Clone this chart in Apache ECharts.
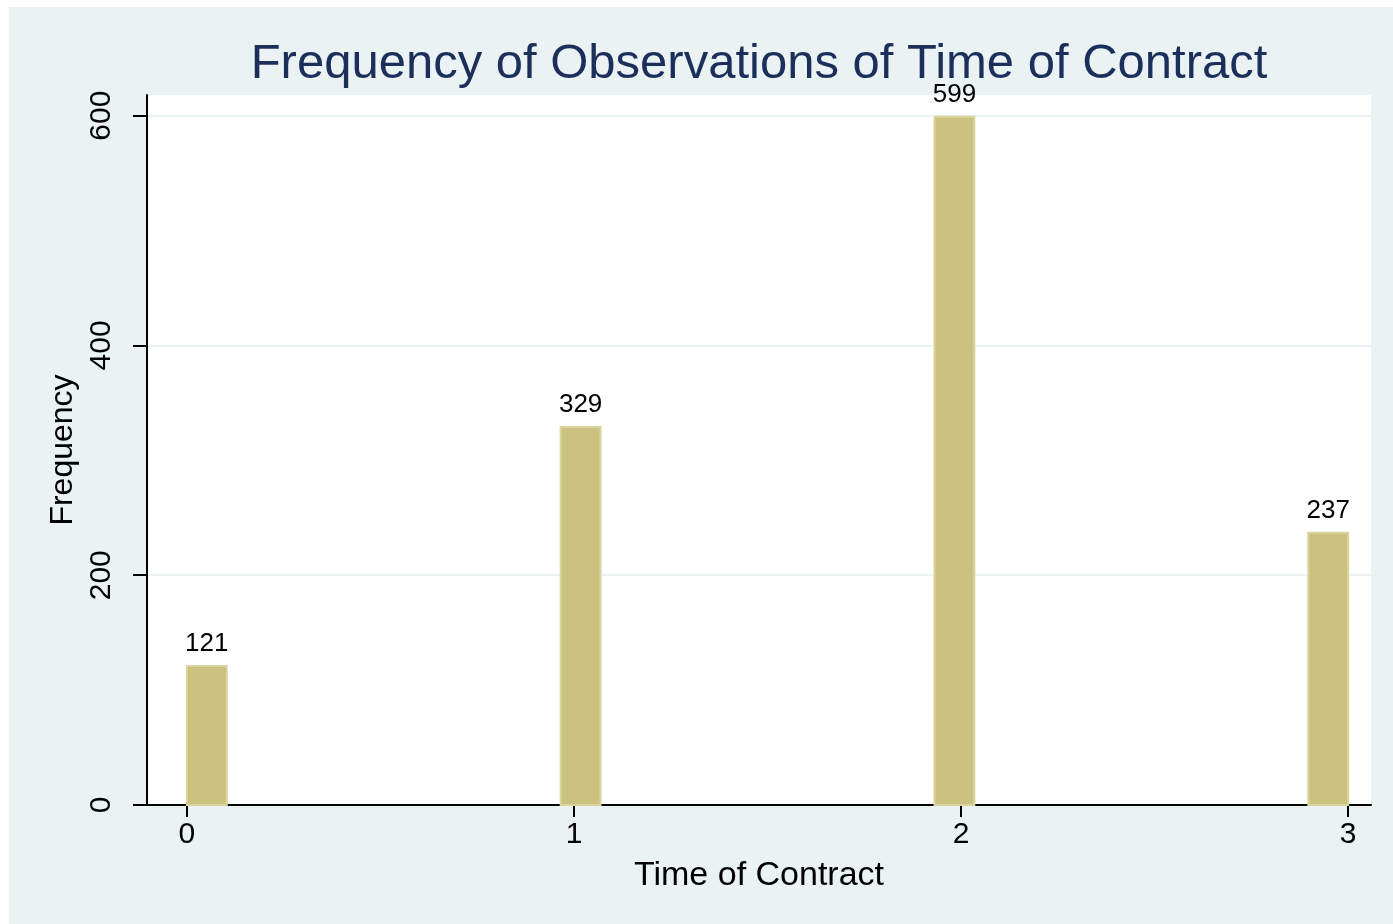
<!DOCTYPE html>
<html>
<head>
<meta charset="utf-8">
<script src="https://cdn.jsdelivr.net/npm/echarts@6/dist/echarts.min.js"></script>
<style>
html,body{margin:0;padding:0;background:#ffffff;width:1393px;height:924px;overflow:hidden;}
#chart{position:absolute;left:9px;top:7px;width:1384px;height:917px;}
</style>
</head>
<body>
<div id="chart"></div>
<script>
const titleText = "Frequency of Observations of Time of Contract";
const xName = "Time of Contract";
const yName = "Frequency";
const categories = [0, 1, 2, 3];
const frequencies = [121, 329, 599, 237];
const xTicks = [0, 1, 2, 3];
const yTicks = [0, 200, 400, 600];
const binWidth = 0.103;

const maxCat = categories[categories.length - 1];
const barData = categories.map((c, i) => {
  const x0 = c * (maxCat - binWidth) / maxCat;
  return [x0, x0 + binWidth, frequencies[i]];
});

const FONT = "Liberation Sans, Arial, Helvetica, sans-serif";
const chart = echarts.init(document.getElementById('chart'));
chart.setOption({
  backgroundColor: '#EAF2F3',
  animation: false,
  title: {
    text: titleText,
    left: 745,
    top: 28,
    textAlign: 'center',
    textStyle: {color: '#1c2e5a', fontSize: 49, fontWeight: 'normal', fontFamily: FONT}
  },
  grid: {
    left: 138, right: 22, top: 88, bottom: 119,
    show: true, backgroundColor: '#ffffff', borderWidth: 0
  },
  xAxis: {
    type: 'value',
    min: -0.103, max: 3.059,
    name: xName, nameLocation: 'middle', nameGap: 54,
    nameTextStyle: {color: '#000', fontSize: 34, fontFamily: FONT},
    axisLine: {show: true, onZero: false, lineStyle: {color: '#000', width: 2}},
    axisTick: {show: true, length: 12, lineStyle: {color: '#000', width: 2}, customValues: xTicks},
    axisLabel: {color: '#000', fontSize: 30, fontFamily: FONT, margin: 15, customValues: xTicks},
    splitLine: {show: false}
  },
  yAxis: {
    type: 'value',
    min: 0, max: 618,
    name: yName, nameLocation: 'middle', nameGap: 63, nameRotate: 90,
    nameTextStyle: {color: '#000', fontSize: 32, fontFamily: FONT},
    axisLine: {show: true, onZero: false, lineStyle: {color: '#000', width: 2}},
    axisTick: {show: true, length: 14, lineStyle: {color: '#000', width: 2}, customValues: yTicks},
    axisLabel: {color: '#000', fontSize: 30, fontFamily: FONT, margin: 30, rotate: 90, customValues: yTicks},
    splitLine: {show: true, lineStyle: {color: '#EAF2F3', width: 2}}
  },
  series: [{
    type: 'custom',
    data: barData,
    encode: {x: [0, 1], y: 2},
    renderItem: function (params, api) {
      const p0 = api.coord([api.value(0), api.value(2)]);
      const p1 = api.coord([api.value(1), 0]);
      return {
        type: 'group',
        children: [{
          type: 'rect',
          shape: {x: p0[0], y: p0[1], width: p1[0] - p0[0], height: p1[1] - p0[1]},
          style: {fill: '#CAC27E', stroke: '#D9D49E', lineWidth: 2}
        }, {
          type: 'text',
          x: (p0[0] + p1[0]) / 2,
          y: p0[1] - 9,
          style: {
            text: String(api.value(2)),
            fill: '#000', fontSize: 26, fontFamily: FONT,
            align: 'center', verticalAlign: 'bottom'
          }
        }]
      };
    }
  }]
});
</script>
</body>
</html>
